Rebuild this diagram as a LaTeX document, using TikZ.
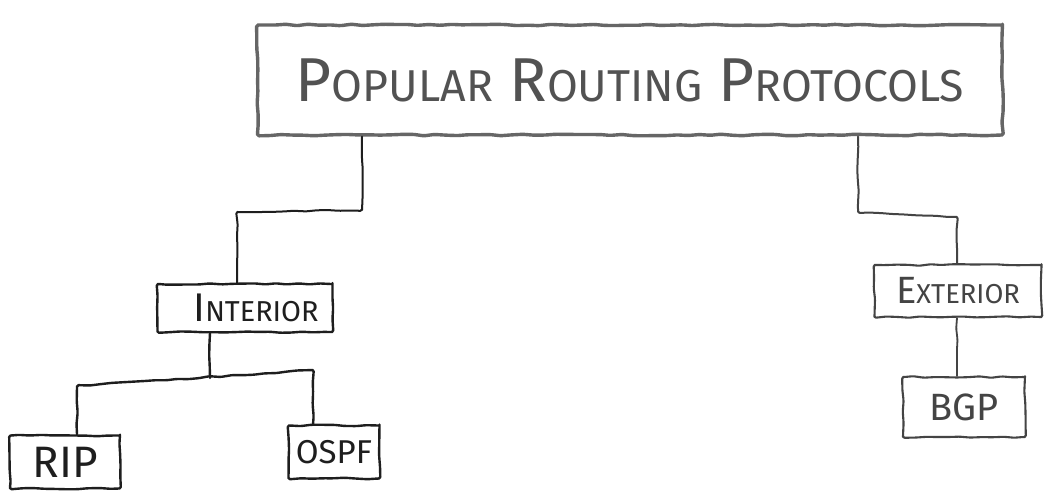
\documentclass[tikz,border=0pt]{standalone}
\usepackage{fontspec}
\setmainfont{Fira Sans}
\usetikzlibrary{decorations.pathmorphing}
% big first letter, smaller capitals after it
\newcommand\hc[2]{#1\scalebox{0.72}{#2}}
\definecolor{pencil}{HTML}{666666}
\definecolor{ink}{HTML}{1E1E1E}
\definecolor{graphite}{HTML}{444444}
\begin{document}
\begin{tikzpicture}[x=1pt,y=-1pt,
  wobble/.style={decorate, decoration={random steps, segment length=11pt, amplitude=0.8pt}, rounded corners=1.5pt},
  box/.style={draw, wobble, line cap=round, line join=round, inner sep=0pt},
  link/.style={wobble, line cap=round, line join=round},
  topbox/.style={box, draw=pencil, line width=3.4pt, text=pencil!80!black},
  inkbox/.style={box, draw=ink, line width=2.4pt, text=ink},
  greybox/.style={box, draw=graphite, line width=2.1pt, text=graphite}]
\pgfmathsetseed{11}
\useasboundingbox[fill=white] (0,0) rectangle (1044,498);

% boxes
\node[topbox, minimum width=745pt, minimum height=110pt,
      font=\fontsize{62}{62}\selectfont] (top) at (630,80)
  {\hc{P}{OPULAR} \hc{R}{OUTING} \hc{P}{ROTOCOLS}};
\node[inkbox, minimum width=175pt, minimum height=48pt,
      font=\fontsize{40}{40}\selectfont] (interior) at (245,308)
  {\hspace{22pt}\hc{I}{NTERIOR}};
\node[inkbox, minimum width=110pt, minimum height=53pt,
      font=\fontsize{44}{44}\selectfont] (rip) at (65,462) {RIP};
\node[inkbox, minimum width=91pt, minimum height=53pt,
      font=\fontsize{33}{33}\selectfont] (ospf) at (334,452) {OSPF};
\node[greybox, minimum width=167pt, minimum height=52pt,
      font=\fontsize{38}{38}\selectfont] (exterior) at (958,291)
  {\hc{E}{XTERIOR}};
\node[greybox, minimum width=122pt, minimum height=60pt,
      font=\fontsize{38}{38}\selectfont] (bgp) at (964,407)
  {BGP\hspace{14pt}};

% elbow points of the connectors
\coordinate (l1) at (362,210);
\coordinate (l2) at (237,212);
\coordinate (m1) at (210,378);
\coordinate (m2) at (77,386);
\coordinate (m3) at (313,370);
\coordinate (r1) at (858,212);
\coordinate (r2) at (957,217);

% connectors
\draw[link, draw=ink, line width=2pt] (top.south -| l1) -- (l1) -- (l2) -- (l2 |- interior.north);
\draw[link, draw=ink, line width=2.4pt] (interior.south -| m1) -- (m1);
\draw[link, draw=ink, line width=2.4pt] (rip.north -| m2) -- (m2) -- (m3) -- (ospf.north -| m3);
\draw[link, draw=graphite, line width=2pt] (top.south -| r1) -- (r1) -- (r2) -- (r2 |- exterior.north);
\draw[link, draw=graphite, line width=1.8pt] (exterior.south -| r2) -- (bgp.north -| r2);
\end{tikzpicture}
\end{document}
